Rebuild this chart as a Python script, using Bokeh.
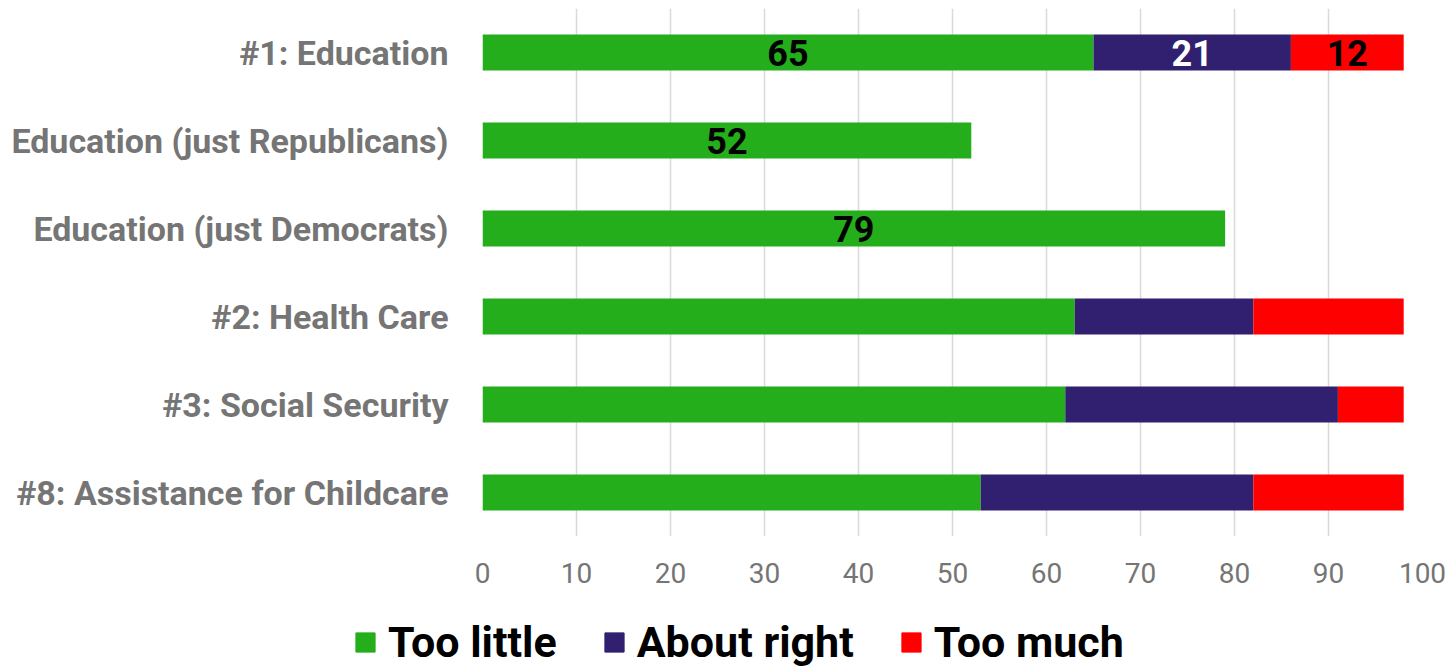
from bokeh.plotting import figure
from bokeh.models import FactorRange, Range1d, Legend, LegendItem, FixedTicker, ColumnDataSource
from bokeh.core.properties import value
from bokeh.embed import file_html
from bokeh.resources import INLINE

categories = ["#1: Education", "Education (just Republicans)", "Education (just Democrats)",
              "#2: Health Care", "#3: Social Security", "#8: Assistance for Childcare"]
too_little = [65, 52, 79, 63, 62, 53]
about_right = [21, 0, 0, 19, 29, 29]
too_much = [12, 0, 0, 16, 7, 16]
series_names = ["Too little", "About right", "Too much"]
series_keys = ["too_little", "about_right", "too_much"]
colors = ["#24ae1b", "#311f6f", "#ff0000"]
label_colors = ["#000000", "#ffffff", "#000000"]
x_ticks = [0, 10, 20, 30, 40, 50, 60, 70, 80, 90, 100]
labeled_rows = ["#1: Education", "Education (just Republicans)", "Education (just Democrats)"]

source = ColumnDataSource(dict(cat=categories, too_little=too_little,
                               about_right=about_right, too_much=too_much))

p = figure(width=1448, height=596, output_backend="svg", toolbar_location=None,
           y_range=FactorRange(factors=categories[::-1]), x_range=Range1d(0, 100),
           min_border_left=482, min_border_right=26, min_border_top=8, min_border_bottom=60)
p.outline_line_color = None

renderers = p.hbar_stack(series_keys, y="cat", height=0.41, color=colors,
                         line_color=None, source=source)

# data labels
lx, ly, lt, lc = [], [], [], []
for i, cat in enumerate(categories):
    if cat not in labeled_rows:
        continue
    vals = [too_little[i], about_right[i], too_much[i]]
    start = 0
    for k, v in enumerate(vals):
        if v > 0:
            lx.append(start + v / 2)
            ly.append(cat)
            lt.append(str(v))
            lc.append(label_colors[k])
        start += v
p.text(x=lx, y=ly, text=lt, text_color=lc, text_align="center", text_baseline="middle",
       text_font=value("Roboto"), text_font_style="bold", text_font_size="36px")

# axes
p.xaxis.ticker = FixedTicker(ticks=x_ticks)
p.xaxis.axis_line_color = None
p.xaxis.major_tick_line_color = None
p.xaxis.minor_tick_line_color = None
p.xaxis.major_label_text_font = "Roboto"
p.xaxis.major_label_text_font_size = "28px"
p.xaxis.major_label_text_color = "#757575"
p.xaxis.major_label_standoff = 20

p.yaxis.axis_line_color = None
p.yaxis.major_tick_line_color = None
p.yaxis.minor_tick_line_color = None
p.yaxis.major_label_text_font = "Roboto"
p.yaxis.major_label_text_font_style = "bold"
p.yaxis.major_label_text_font_size = "34px"
p.yaxis.major_label_text_color = "#757575"
p.yaxis.major_label_standoff = 28

p.xgrid.grid_line_color = "#d9d9d9"
p.xgrid.grid_line_width = 1.5
p.ygrid.grid_line_color = None

# legend strip below the chart (separate root so its frame is not aligned)
p2 = figure(width=1448, height=71, output_backend="svg", toolbar_location=None,
            x_range=Range1d(0, 1), y_range=Range1d(0, 1),
            min_border_left=0, min_border_right=0, min_border_top=0, min_border_bottom=0)
p2.axis.visible = False
p2.grid.visible = False
p2.outline_line_color = None
dummies = [p2.rect(x=[-10], y=[-10], width=1, height=1, color=c) for c in colors]

legend = Legend(items=[LegendItem(label=n, renderers=[r]) for n, r in zip(series_names, dummies)],
                location=(353, 0), orientation="horizontal",
                label_text_font="Roboto", label_text_font_style="bold",
                label_text_font_size="43px", label_text_color="#000000",
                glyph_width=24, glyph_height=24, label_standoff=11, spacing=45,
                padding=0, margin=0, border_line_color=None, background_fill_alpha=0)
p2.add_layout(legend, "center")

open("out.html", "w").write(file_html([p, p2], INLINE))
